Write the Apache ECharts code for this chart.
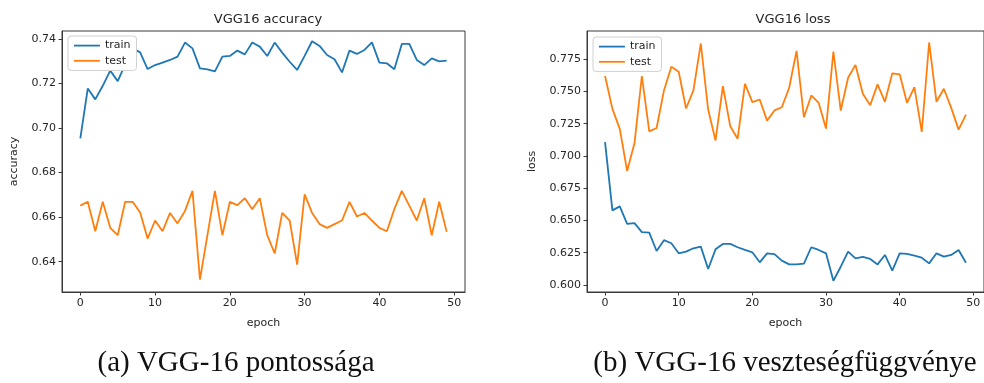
<!DOCTYPE html>
<html>
<head>
<meta charset="utf-8">
<script src="https://cdn.jsdelivr.net/npm/echarts@6/dist/echarts.min.js"></script>
<style>
html,body{margin:0;padding:0;background:#fff;}
#chart{width:984px;height:383px;}
</style>
</head>
<body>
<div id="chart"></div>
<script>
const epochs = [0,1,2,3,4,5,6,7,8,9,10,11,12,13,14,15,16,17,18,19,20,21,22,23,24,25,26,27,28,29,30,31,32,33,34,35,36,37,38,39,40,41,42,43,44,45,46,47,48,49];
const accTrain = [0.6954,0.7178,0.7129,0.7190,0.7258,0.7211,0.7285,0.7358,0.7340,0.7265,
  0.7283,0.7294,0.7306,0.7321,0.7384,0.7358,0.7268,0.7264,0.7255,0.7321,
  0.7324,0.7348,0.7331,0.7384,0.7366,0.7324,0.7384,0.7339,0.7298,0.7261,
  0.7324,0.7390,0.7369,0.7328,0.7309,0.7250,0.7348,0.7333,0.7351,0.7385,
  0.7294,0.7291,0.7264,0.7378,0.7378,0.7306,0.7283,0.7313,0.7300,0.7303];
const accTest = [0.6652,0.6669,0.6537,0.6669,0.6552,0.6519,0.6669,0.6669,0.6621,0.6504,
  0.6585,0.6537,0.6619,0.6572,0.6628,0.6718,0.6320,0.6519,0.6718,0.6519,
  0.6669,0.6654,0.6685,0.6636,0.6685,0.6519,0.6437,0.6619,0.6585,0.6387,
  0.6702,0.6619,0.6569,0.6552,0.6569,0.6585,0.6669,0.6603,0.6619,0.6585,
  0.6552,0.6537,0.6636,0.6718,0.6652,0.6585,0.6685,0.6519,0.6669,0.6534];
const lossTrain = [0.7107,0.6578,0.6609,0.6474,0.6479,0.6409,0.6406,0.6263,0.6347,0.6323,
  0.6245,0.6258,0.6284,0.6297,0.6123,0.6276,0.6318,0.6318,0.6292,0.6271,
  0.6253,0.6175,0.6245,0.6239,0.6188,0.6159,0.6159,0.6165,0.6292,0.6271,
  0.6245,0.6032,0.6141,0.6258,0.6206,0.6217,0.6201,0.6159,0.6232,0.6110,
  0.6245,0.6240,0.6227,0.6211,0.6167,0.6245,0.6219,0.6232,0.6271,0.6172];
const lossTest = [0.7620,0.7365,0.7210,0.6884,0.7100,0.7620,0.7191,0.7217,0.7508,0.7692,
  0.7653,0.7368,0.7508,0.7872,0.7360,0.7120,0.7542,0.7230,0.7134,0.7560,
  0.7417,0.7438,0.7274,0.7353,0.7378,0.7529,0.7815,0.7300,0.7469,0.7412,
  0.7212,0.7810,0.7352,0.7607,0.7706,0.7482,0.7394,0.7555,0.7420,0.7641,
  0.7633,0.7412,0.7534,0.7186,0.7880,0.7420,0.7521,0.7373,0.7204,0.7321];
const xTicks = [0,10,20,30,40,50];
const accTicks = [0.64,0.66,0.68,0.70,0.72,0.74];
const lossTicks = [0.600,0.625,0.650,0.675,0.700,0.725,0.750,0.775];
const titles = ['VGG16 accuracy','VGG16 loss'];
const yNames = ['accuracy','loss'];
const xName = 'epoch';
const seriesNames = ['train','test'];
const captions = ['(a) VGG-16 pontossága','(b) VGG-16 veszteségfüggvénye'];

const BLUE = '#1f77b4', ORANGE = '#ff7f0e';
const FONT = 'DejaVu Sans';
const TXT = '#262626';
const SPINE = '#3a3a3a';

const grids = [
  {left: 62, top: 31, width: 403, height: 261},
  {left: 587, top: 31, width: 402, height: 261}
];

function xAxisCfg(gi){
  return {
    type: 'value', gridIndex: gi, min: -2.45, max: 51.45,
    name: xName, nameLocation: 'middle', nameGap: 26,
    nameTextStyle: {fontFamily: FONT, fontSize: 11, color: TXT},
    axisLine: {show: true, onZero: false, lineStyle: {color: SPINE, width: 1}},
    axisTick: {show: true, length: 3.5, inside: false, customValues: xTicks, lineStyle: {color: SPINE}},
    axisLabel: {customValues: xTicks, margin: 6, fontFamily: FONT, fontSize: 11, color: TXT},
    splitLine: {show: false}
  };
}
function yAxisCfg(gi, min, max, ticks, dec, name, gap){
  return {
    type: 'value', gridIndex: gi, min: min, max: max,
    name: name, nameLocation: 'middle', nameGap: gap,
    nameTextStyle: {fontFamily: FONT, fontSize: 11, color: TXT},
    axisLine: {show: true, onZero: false, lineStyle: {color: SPINE, width: 1}},
    axisTick: {show: true, length: 3.5, inside: false, customValues: ticks, lineStyle: {color: SPINE}},
    axisLabel: {customValues: ticks, margin: 6, fontFamily: FONT, fontSize: 11, color: TXT,
      formatter: v => Number(v).toFixed(dec)},
    splitLine: {show: false}
  };
}
function pairs(arr){ return arr.map((v,i)=>[epochs[i], v]); }
function lineSeries(name, color, xi, data){
  return {
    type: 'line', name: name, xAxisIndex: xi, yAxisIndex: xi,
    data: pairs(data), symbol: 'none', smooth: false, animation: false,
    lineStyle: {color: color, width: 1.8}, itemStyle: {color: color}
  };
}
function legendCfg(left, top){
  return {
    data: seriesNames, orient: 'vertical', left: left, top: top,
    itemWidth: 26, itemHeight: 14, itemGap: 4,
    padding: [4, 6, 4, 5], backgroundColor: '#fff',
    borderColor: '#d0d0d0', borderWidth: 1, borderRadius: 3,
    itemStyle: {opacity: 0},
    lineStyle: {width: 1.8},
    textStyle: {fontFamily: FONT, fontSize: 11, color: TXT, padding: [0,0,0,0]},
    selectedMode: false
  };
}

const chart = echarts.init(document.getElementById('chart'), null, {renderer: 'canvas'});
chart.setOption({
  animation: false,
  backgroundColor: '#fff',
  title: [
    {text: titles[0], left: 263, top: 8, textAlign: 'center',
      textStyle: {fontFamily: FONT, fontSize: 13, fontWeight: 'normal', color: TXT}},
    {text: titles[1], left: 788, top: 8, textAlign: 'center',
      textStyle: {fontFamily: FONT, fontSize: 13, fontWeight: 'normal', color: TXT}},
    {text: captions[0], left: 236, top: 349, textAlign: 'center', padding: 0,
      textStyle: {fontFamily: 'Liberation Serif', fontSize: 29, fontWeight: 'normal', color: '#111'}},
    {text: captions[1], left: 785, top: 349, textAlign: 'center', padding: 0,
      textStyle: {fontFamily: 'Liberation Serif', fontSize: 29, fontWeight: 'normal', color: '#111'}}
  ],
  grid: grids.map(g => Object.assign({show: true, borderColor: SPINE, borderWidth: 1, backgroundColor: 'transparent'}, g)),
  xAxis: [xAxisCfg(0), xAxisCfg(1)],
  yAxis: [
    yAxisCfg(0, 0.6264, 0.7436, accTicks, 2, yNames[0], 42),
    yAxisCfg(1, 0.5945, 0.7969, lossTicks, 3, yNames[1], 49)
  ],
  legend: [legendCfg(68, 36), legendCfg(593, 37)],
  series: [
    lineSeries(seriesNames[0], BLUE, 0, accTrain),
    lineSeries(seriesNames[1], ORANGE, 0, accTest),
    lineSeries(seriesNames[0], BLUE, 1, lossTrain),
    lineSeries(seriesNames[1], ORANGE, 1, lossTest)
  ]
});
</script>
</body>
</html>
